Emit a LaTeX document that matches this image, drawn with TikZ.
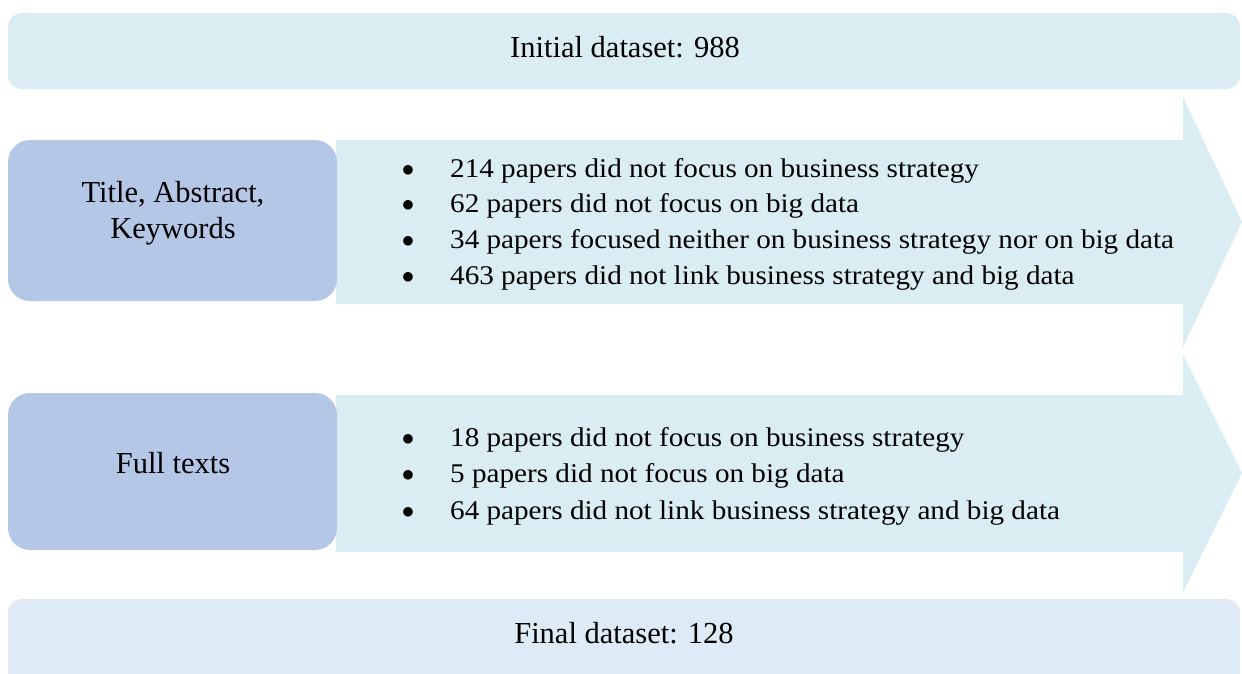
\documentclass[tikz,border=0pt]{standalone}
\usepackage{fontspec}
\setmainfont{Liberation Serif}
\newfontfamily\bulletfont[FakeStretch=1.08]{Liberation Serif}
\definecolor{lightband}{RGB}{218,237,243}
\definecolor{finalband}{RGB}{222,235,247}
\definecolor{stagebox}{RGB}{180,199,231}
\tikzset{
  stagelabel/.style={font=\fontsize{30.5}{36}\selectfont, align=center, text=black},
  bandlabel/.style={font=\fontsize{30.5}{36}\selectfont, text=black},
  itemtext/.style={font=\bulletfont\fontsize{27}{31}\selectfont, anchor=west, inner sep=0pt, text=black},
  itembullet/.style={font=\fontsize{24}{28}\selectfont, inner sep=0pt, text=black},
}
\begin{document}
\begin{tikzpicture}[x=1pt,y=-1pt]
\useasboundingbox (0,0) rectangle (1242,673);
% top band
\fill[lightband, rounded corners=14pt] (8,13) rectangle (1240,89);
\node[bandlabel] (initial) at (625,47) {Initial dataset: 988};
% arrow 1
\fill[lightband] (336,140) -- (1183,140) -- (1183,97) -- (1242,222) -- (1183,347) -- (1183,304) -- (336,304) -- cycle;
\fill[stagebox, rounded corners=22pt] (8,140) rectangle (337,301);
\node[stagelabel] (tak) at (173,213) {Title, Abstract,\\Keywords};
\node[itembullet] (b11) at (408,171) {$\bullet$};
\node[itemtext] (t11) at (450,171) {214 papers did not focus on business strategy};
\node[itembullet] (b12) at (408,206) {$\bullet$};
\node[itemtext] (t12) at (450,206) {62 papers did not focus on big data};
\node[itembullet] (b13) at (408,242) {$\bullet$};
\node[itemtext] (t13) at (450,242) {34 papers focused neither on business strategy nor on big data};
\node[itembullet] (b14) at (408,278) {$\bullet$};
\node[itemtext] (t14) at (450,278) {463 papers did not link business strategy and big data};
% arrow 2
\fill[lightband] (336,395) -- (1183,395) -- (1183,355) -- (1242,473) -- (1183,592) -- (1183,552) -- (336,552) -- cycle;
\fill[stagebox, rounded corners=22pt] (8,393) rectangle (337,550);
\node[stagelabel] (full) at (173,463) {Full texts};
\node[itembullet] (b21) at (408,440) {$\bullet$};
\node[itemtext] (t21) at (450,440) {18 papers did not focus on business strategy};
\node[itembullet] (b22) at (408,476) {$\bullet$};
\node[itemtext] (t22) at (450,476) {5 papers did not focus on big data};
\node[itembullet] (b23) at (408,513) {$\bullet$};
\node[itemtext] (t23) at (450,513) {64 papers did not link business strategy and big data};
% bottom band
\fill[finalband, rounded corners=14pt] (8,599) rectangle (1240,690);
\node[bandlabel] (final) at (624,633) {Final dataset: 128};
\end{tikzpicture}
\end{document}
